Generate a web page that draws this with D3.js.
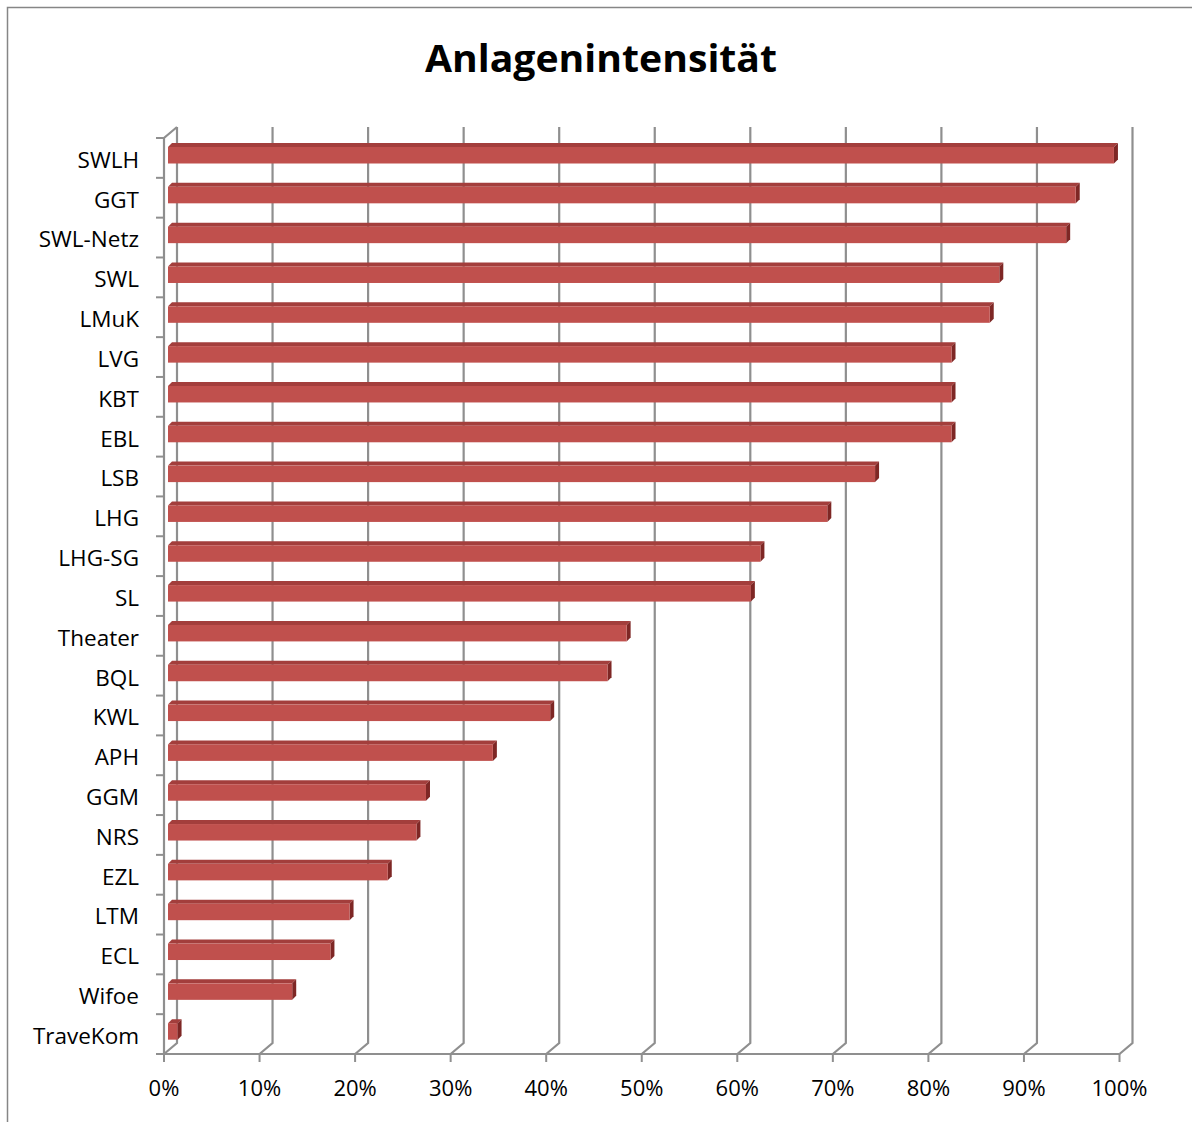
<!DOCTYPE html>
<html>
<head>
<meta charset="utf-8">
<script src="https://cdn.jsdelivr.net/npm/d3@7"></script>
<style>
  html, body { margin: 0; padding: 0; background: #fff; }
  svg { display: block; }
  text { font-family: "Open Sans", Lato, sans-serif; fill: #000; }
</style>
</head>
<body>
<script>
const titleText = "Anlagenintensität";
const categories = ["SWLH","GGT","SWL-Netz","SWL","LMuK","LVG","KBT","EBL","LSB","LHG","LHG-SG","SL","Theater","BQL","KWL","APH","GGM","NRS","EZL","LTM","ECL","Wifoe","TraveKom"];
const values = [0.99,0.95,0.94,0.87,0.86,0.82,0.82,0.82,0.74,0.69,0.62,0.61,0.48,0.46,0.40,0.34,0.27,0.26,0.23,0.19,0.17,0.13,0.01];
const tickValues = [0,0.1,0.2,0.3,0.4,0.5,0.6,0.7,0.8,0.9,1.0];
const tickLabels = ["0%","10%","20%","30%","40%","50%","60%","70%","80%","90%","100%"];

const W = 1192, H = 1122;
const svg = d3.select("body").append("svg").attr("width", W).attr("height", H);

// frame
svg.append("path").attr("d", `M7.5,${H} L7.5,7.5 L${W},7.5`)
  .attr("fill","none").attr("stroke","#868686").attr("stroke-width",1.5);

// title
svg.append("text").attr("x", 601).attr("y", 72).attr("text-anchor","middle")
  .attr("font-size", 38).attr("font-weight","bold")
  .attr("textLength", 352).attr("lengthAdjust","spacingAndGlyphs")
  .text(titleText);

const plotTop = 138, plotBottom = 1054;
const x = d3.scaleLinear().domain([0,1]).range([164, 1119.5]);
const y = d3.scaleBand().domain(categories).range([plotTop, plotBottom]);
const depth = {dx: 13, dy: -11};
const barDepth = {dx: 4, dy: -4};
const barOffset = 4;
const gridColor = "#8f8f8f";

// back gridlines with floor diagonal
const grid = svg.append("g");
tickValues.forEach(v => {
  const fx = x(v);
  grid.append("path")
    .attr("d", `M${fx+depth.dx},${plotTop+depth.dy} L${fx+depth.dx},${plotBottom+depth.dy} L${fx},${plotBottom}`)
    .attr("fill","none").attr("stroke", gridColor).attr("stroke-width", 2.2);
});

// front axes
svg.append("path")
  .attr("d", `M${x(0)+depth.dx},${plotTop+depth.dy} L${x(0)},${plotTop} L${x(0)},${plotBottom} L${x(1)},${plotBottom}`)
  .attr("fill","none").attr("stroke", gridColor).attr("stroke-width", 2.2);

// left ticks
const yTicks = categories.map((c) => y(c)).concat([plotBottom]);
svg.append("g").selectAll("line").data(yTicks).join("line")
  .attr("x1", x(0)-8).attr("x2", x(0)).attr("y1", d=>d).attr("y2", d=>d)
  .attr("stroke", gridColor).attr("stroke-width", 2);

// bottom ticks
svg.append("g").selectAll("line").data(tickValues).join("line")
  .attr("x1", d=>x(d)).attr("x2", d=>x(d)).attr("y1", plotBottom).attr("y2", plotBottom+8)
  .attr("stroke", gridColor).attr("stroke-width", 2);

// bars
const bars = svg.append("g");
categories.forEach((c, i) => {
  const v = values[i];
  const x0 = x(0) + barOffset, x1 = x(v) + barOffset;
  const yt = y(c) + 9, yb = y(c) + 25.5;
  const dx = barDepth.dx, dy = barDepth.dy;
  bars.append("path")
    .attr("d", `M${x0},${yt} L${x0+dx},${yt+dy} L${x1+dx},${yt+dy} L${x1},${yt} Z`)
    .attr("fill", "#a33e3c");
  bars.append("path")
    .attr("d", `M${x1},${yt} L${x1+dx},${yt+dy} L${x1+dx},${yb+dy} L${x1},${yb} Z`)
    .attr("fill", "#7e2725");
  bars.append("rect").attr("x", x0).attr("y", yt).attr("width", Math.max(0, x1-x0)).attr("height", yb-yt)
    .attr("fill", "#c0504d");
});

// category labels
svg.append("g").selectAll("text").data(categories).join("text")
  .attr("x", 139).attr("y", d => y(d) + y.bandwidth()/2 + 2)
  .attr("dy", "0.35em").attr("text-anchor","end").attr("font-size", 22.5)
  .text(d => d);

// x tick labels
svg.append("g").selectAll("text").data(tickValues).join("text")
  .attr("x", d => x(d)).attr("y", 1096).attr("text-anchor","middle").attr("font-size", 22)
  .text((d,i) => tickLabels[i]);
</script>
</body>
</html>
